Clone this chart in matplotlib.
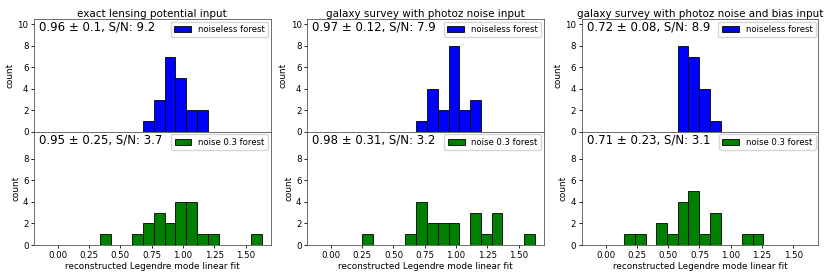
import matplotlib
matplotlib.use("Agg")
import matplotlib.pyplot as plt
import numpy as np

# histogram counts per bin (20 bins each)
titles = ["exact lensing potential input",
          "galaxy survey with photoz noise input",
          "galaxy survey with photoz noise and bias input"]

noiseless_counts = [
    [0, 0, 0, 0, 0, 0, 0, 0, 0, 1, 3, 7, 5, 2, 2, 0, 0, 0, 0, 0],
    [0, 0, 0, 0, 0, 0, 0, 0, 0, 1, 4, 2, 8, 2, 3, 0, 0, 0, 0, 0],
    [0, 0, 0, 0, 0, 0, 0, 0, 8, 7, 4, 1, 0, 0, 0, 0, 0, 0, 0, 0],
]
noisy_counts = [
    [0, 0, 0, 0, 0, 1, 0, 0, 1, 2, 3, 2, 4, 4, 1, 1, 0, 0, 0, 1],
    [0, 0, 0, 0, 1, 0, 0, 0, 1, 4, 2, 2, 2, 0, 3, 1, 3, 0, 0, 1],
    [0, 0, 0, 1, 1, 0, 2, 1, 4, 5, 1, 3, 0, 0, 1, 1, 0, 0, 0, 0],
]
bin_start = [-0.093, -0.093, -0.108]
bin_width = [0.0861, 0.0861, 0.0855]

noiseless_text = ["0.96 ± 0.1, S/N: 9.2", "0.97 ± 0.12, S/N: 7.9", "0.72 ± 0.08, S/N: 8.9"]
noisy_text = ["0.95 ± 0.25, S/N: 3.7", "0.98 ± 0.31, S/N: 3.2", "0.71 ± 0.23, S/N: 3.1"]

plt.rcParams.update({
    "font.family": "DejaVu Sans",
    "axes.linewidth": 0.6,
    "axes.edgecolor": "#555555",
    "xtick.major.width": 0.6,
    "ytick.major.width": 0.6,
    "xtick.major.size": 2.5,
    "ytick.major.size": 2.5,
    "xtick.labelsize": 6.2,
    "ytick.labelsize": 6.2,
})

fig = plt.figure(figsize=(8.3, 2.77), dpi=100)

lefts = [0.041, 0.370, 0.701]
width = 0.285
y_bot, y_mid, y_top = 0.1155, 0.5245, 0.931

for i in range(3):
    edges = bin_start[i] + bin_width[i] * np.arange(21)
    centers = 0.5 * (edges[:-1] + edges[1:])

    ax_top = fig.add_axes([lefts[i], y_mid, width, y_top - y_mid])
    ax_bot = fig.add_axes([lefts[i], y_bot, width, y_mid - y_bot], sharex=ax_top)

    ax_top.hist(centers, bins=edges, weights=noiseless_counts[i], color="blue",
                edgecolor="black", linewidth=0.6, label="noiseless forest")
    ax_bot.hist(centers, bins=edges, weights=noisy_counts[i], color="green",
                edgecolor="black", linewidth=0.6, label="noise 0.3 forest")

    for ax, txt in ((ax_top, noiseless_text[i]), (ax_bot, noisy_text[i])):
        ax.set_ylim(0, 10.5)
        ax.set_ylabel("count", fontsize=6.4, labelpad=2)
        ax.text(0.02, 0.985, txt, transform=ax.transAxes, ha="left", va="top",
                fontsize=8.5)
        ax.legend(loc="upper right", fontsize=6.1, borderaxespad=0.3)
        ax.tick_params(pad=1.5)

    ax_top.set_yticks([0, 2, 4, 6, 8, 10])
    ax_bot.set_yticks([0, 2, 4, 6, 8])
    ax_top.tick_params(axis="x", bottom=False, labelbottom=False)
    ax_bot.set_xlim(-0.19, 1.70)
    ax_bot.set_xticks([0.0, 0.25, 0.5, 0.75, 1.0, 1.25, 1.5])
    ax_bot.set_xlabel("reconstructed Legendre mode linear fit", fontsize=6.4, labelpad=1.5)
    ax_top.set_title(titles[i], fontsize=7.5, pad=1.5)

fig.savefig("out.png", dpi=100)
